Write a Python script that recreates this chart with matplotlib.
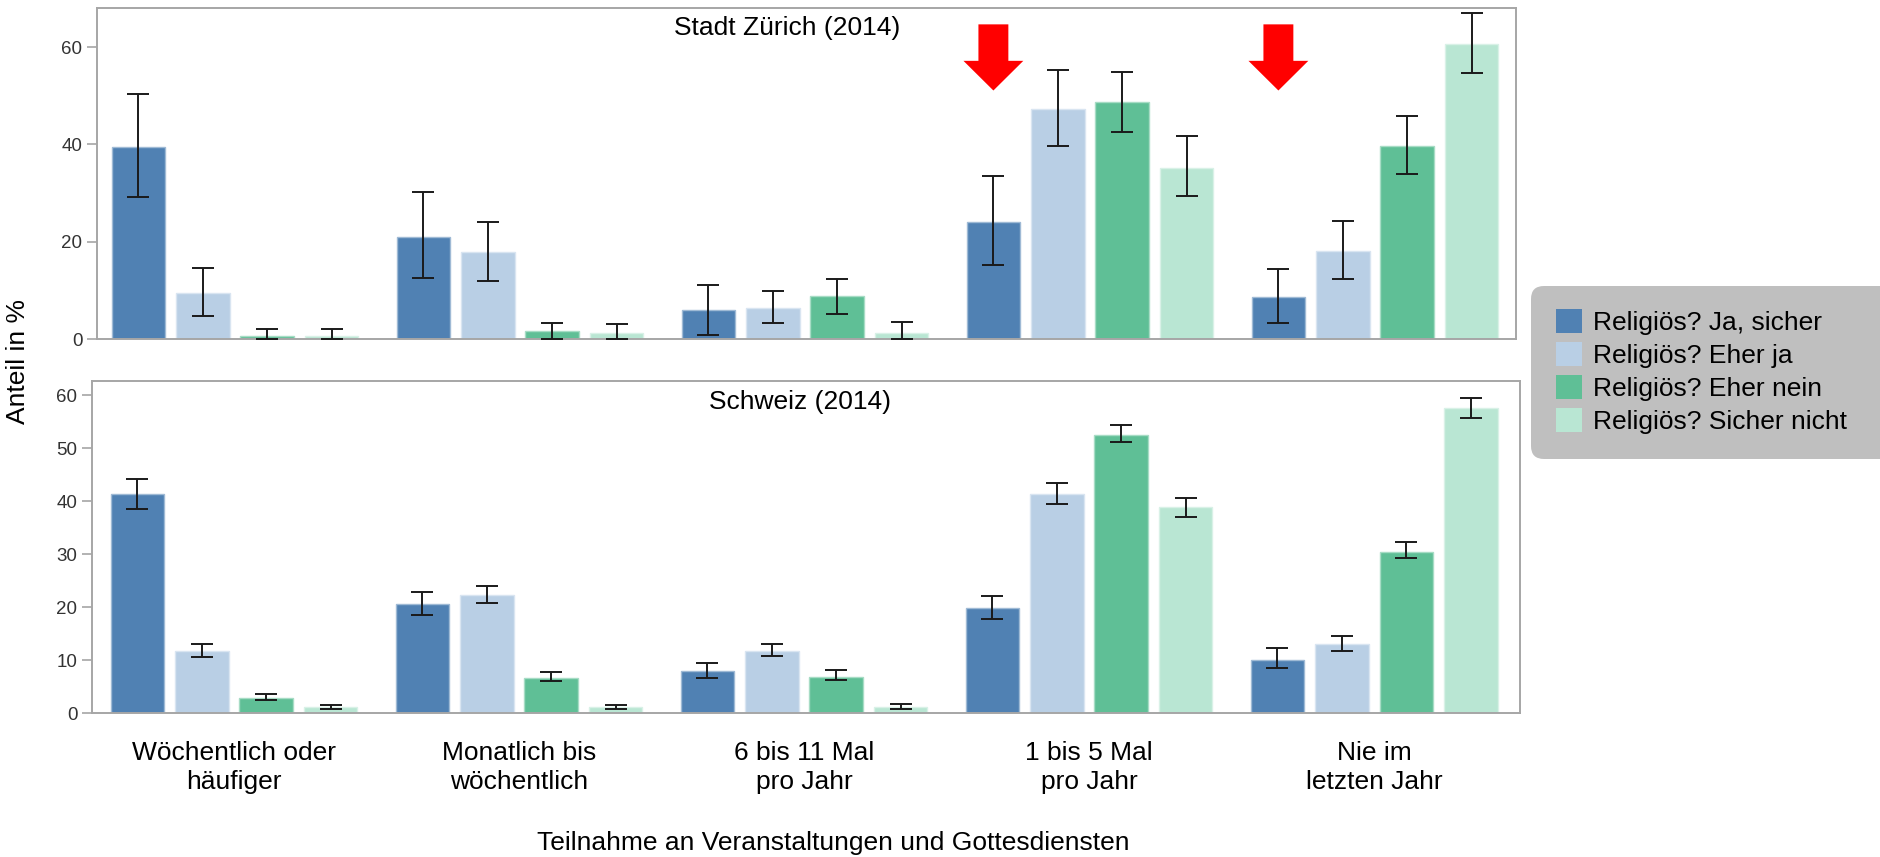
import matplotlib
matplotlib.use('Agg')
import matplotlib.pyplot as plt
import matplotlib.colors as mcolors
from matplotlib.patches import FancyBboxPatch, Patch
import numpy as np

# categories and series
categories = ['Wöchentlich oder\nhäufiger', 'Monatlich bis\nwöchentlich', '6 bis 11 Mal\npro Jahr',
              '1 bis 5 Mal\npro Jahr', 'Nie im\nletzten Jahr']
series = ['Religiös? Ja, sicher', 'Religiös? Eher ja', 'Religiös? Eher nein', 'Religiös? Sicher nicht']
colors = ['#5081B3', '#B9CFE5', '#5FBF96', '#B9E6D3']

# Stadt Zürich (2014): share in %, one list per series
zh_values = [[39.4, 21.0, 5.9, 24.1, 8.6],
             [9.4, 17.8, 6.4, 47.2, 18.2],
             [0.7, 1.6, 8.8, 48.7, 39.7],
             [0.7, 1.3, 1.3, 35.2, 60.7]]
zh_lower = [[29.3, 12.6, 0.9, 15.3, 3.3],
            [4.8, 12.0, 3.3, 39.6, 12.3],
            [0.0, 0.0, 5.1, 42.5, 33.9],
            [0.0, 0.0, 0.0, 29.4, 54.6]]
zh_upper = [[50.3, 30.2, 11.1, 33.6, 14.5],
            [14.7, 24.0, 9.9, 55.4, 24.3],
            [2.1, 3.3, 12.3, 54.9, 45.9],
            [2.1, 3.1, 3.4, 41.7, 67.1]]

# Schweiz (2014)
ch_values = [[41.3, 20.6, 7.9, 19.8, 10.0],
             [11.7, 22.3, 11.7, 41.3, 13.1],
             [2.8, 6.7, 6.9, 52.6, 30.5],
             [1.1, 1.1, 1.1, 38.9, 57.6]]
ch_lower = [[38.6, 18.5, 6.6, 17.7, 8.5],
            [10.5, 20.7, 10.7, 39.5, 11.8],
            [2.5, 6.0, 6.3, 51.2, 29.3],
            [0.75, 0.75, 0.8, 37.1, 55.8]]
ch_upper = [[44.3, 22.9, 9.5, 22.1, 12.2],
            [13.0, 24.0, 13.0, 43.4, 14.6],
            [3.6, 7.7, 8.1, 54.5, 32.4],
            [1.6, 1.6, 1.7, 40.7, 59.6]]

# groups (category index) marked with a red arrow above the first bar
arrow_groups = [3, 4]

plt.rcParams['font.family'] = ['Liberation Sans', 'DejaVu Sans']
narrow = ['Liberation Sans Narrow', 'Liberation Sans', 'DejaVu Sans']

bar_step = 0.226
bar_width = 0.188
frame_col = '#A6A6A6'

fig = plt.figure(figsize=(18.81, 8.57), dpi=100)
ax_top = fig.add_axes([0.0516, 0.6044, 0.7544, 0.3859])
ax_bot = fig.add_axes([0.0489, 0.1680, 0.7592, 0.3878])


def draw_panel(ax, values, lower, upper):
    x = np.arange(len(categories))
    for i, name in enumerate(series):
        v = np.array(values[i])
        lo = np.array(lower[i])
        hi = np.array(upper[i])
        pos = x + (i - 1.5) * bar_step
        edge = mcolors.to_hex(0.55 * np.array(mcolors.to_rgb(colors[i])) + 0.45)
        ax.bar(pos, v, bar_width, color=colors[i], edgecolor=edge, linewidth=1, label=name, zorder=2)
        ax.errorbar(pos, v, yerr=[v - lo, hi - v], fmt='none', ecolor='#1a1a1a',
                    elinewidth=1.4, capsize=8, capthick=1.4, zorder=3)
    for sp in ax.spines.values():
        sp.set_color(frame_col)
        sp.set_linewidth(1.4)
    ax.tick_params(axis='x', length=0, labelbottom=False)
    ax.tick_params(axis='y', length=7, width=1.2, color=frame_col, pad=3.5, labelsize=13.5,
                   labelcolor='#333333')


draw_panel(ax_top, zh_values, zh_lower, zh_upper)
ax_top.set_xlim(-0.484, 4.495)
ax_top.set_ylim(0, 68)
ax_top.set_yticks([0, 20, 40, 60])
for lab in ax_top.get_yticklabels():
    lab.set_family(narrow)
ax_top.text(0.486, 0.94, 'Stadt Zürich (2014)', transform=ax_top.transAxes, ha='center', va='center', fontsize=19)

draw_panel(ax_bot, ch_values, ch_lower, ch_upper)
ax_bot.set_xlim(-0.498, 4.512)
ax_bot.set_ylim(0, 62.8)
ax_bot.set_yticks([0, 10, 20, 30, 40, 50, 60])
for lab in ax_bot.get_yticklabels():
    lab.set_family(narrow)
ax_bot.text(0.496, 0.937, 'Schweiz (2014)', transform=ax_bot.transAxes, ha='center', va='center', fontsize=19)

# category labels under the lower panel
ax_bot.set_xticks(np.arange(len(categories)))
ax_bot.set_xticklabels(categories)
ax_bot.tick_params(axis='x', labelbottom=True, pad=20, labelsize=19)
for lab in ax_bot.get_xticklabels():
    lab.set_family(narrow)
    lab.set_linespacing(1.25)

# red arrows in the upper panel
for g in arrow_groups:
    xc = g - 1.5 * bar_step
    shaft, head = 0.105, 0.21
    y_top, y_neck, y_tip = 64.7, 57.2, 51.1
    xs = [xc - shaft / 2, xc + shaft / 2, xc + shaft / 2, xc + head / 2, xc, xc - head / 2, xc - shaft / 2]
    ys = [y_top, y_top, y_neck, y_neck, y_tip, y_neck, y_neck]
    ax_top.fill(xs, ys, color='#FF0000', lw=0, zorder=5)

fig.text(0.4429, 0.0163, 'Teilnahme an Veranstaltungen und Gottesdiensten', ha='center', va='center',
         fontsize=19, family=narrow)
fig.text(0.0096, 0.5776, 'Anteil in %', rotation=90, ha='center', va='center', fontsize=19)

# legend with grey rounded box running off the right edge
box = FancyBboxPatch((15.31, 3.98), 4.0, 1.73, boxstyle='round,pad=0,rounding_size=0.13',
                     transform=fig.dpi_scale_trans, facecolor='#BFBFBF', edgecolor='none', zorder=0)
fig.patches.append(box)
handles = [Patch(facecolor=c, edgecolor='none') for c in colors]
fig.legend(handles, series, loc='upper left', bbox_to_anchor=(1556 / 1881, 1 - 309 / 857),
           frameon=False, fontsize=19, handlelength=1.0, handleheight=1.0, handletextpad=0.4,
           labelspacing=0.27, borderpad=0, borderaxespad=0)

fig.savefig('out.png', dpi=100)
